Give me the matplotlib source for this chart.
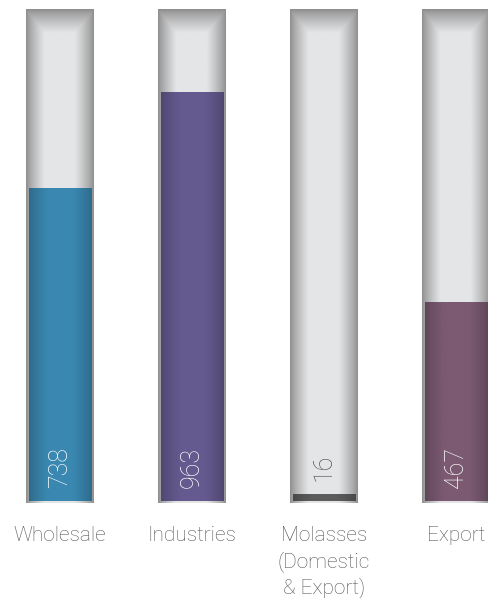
import matplotlib
matplotlib.use("Agg")
import matplotlib.pyplot as plt
import numpy as np
from matplotlib.colors import to_rgb

categories = ["Wholesale", "Industries", "Molasses\n(Domestic\n& Export)", "Export"]
values = [738, 963, 16, 467]
fill_colors = ["#3a88b1", "#655a8f", "#5c5c5c", "#7b5a72"]
label_colors = ["white", "white", "#555555", "white"]

track_max = 1160

plt.rcParams["font.family"] = ["Roboto", "DejaVu Sans"]

fig = plt.figure(figsize=(4.88, 5.98), dpi=100)
ax = fig.add_axes([0, 0, 1, 1])
ax.set_xlim(-0.4545, 3.2424)
ax.set_ylim(-228.8, 1181.6)
ax.axis("off")

outer_w = 0.515
inner_w = 0.477


def profile(n, plateau_lo, plateau_hi):
    t = np.linspace(0, 1, n)
    p = np.ones(n)
    lo = t < plateau_lo
    hi = t > plateau_hi
    p[lo] = (t[lo] / plateau_lo) ** 0.8
    p[hi] = ((1 - t[hi]) / (1 - plateau_hi)) ** 0.8
    return p


# track gradient: dark grey edges, light centre, darker at top
nx, ny = 120, 400
px = profile(nx, 0.27, 0.72)
py = np.ones(ny)
top_n = int(ny * 0.05)
py[:top_n] = np.linspace(0, 1, top_n) ** 0.8
shade = np.minimum(px[None, :], py[:, None])
dark = np.array(to_rgb("#8e8e8e"))
light = np.array(to_rgb("#e4e5e7"))
track_img = dark[None, None, :] + (light - dark)[None, None, :] * shade[:, :, None]

fx = profile(nx, 0.3, 0.7)

for i, (v, c) in enumerate(zip(values, fill_colors)):
    ax.imshow(track_img, extent=(i - outer_w / 2, i + outer_w / 2, -4.7, track_max),
              aspect="auto", interpolation="bilinear", zorder=1)
    base = np.array(to_rgb(c))
    edge = base * 0.78
    fill_img = edge[None, None, :] + (base - edge)[None, None, :] * np.tile(fx, (2, 1))[:, :, None]
    ax.imshow(fill_img, extent=(i - inner_w / 2, i + inner_w / 2, 0, v),
              aspect="auto", interpolation="bilinear", zorder=2)
    ax.text(i, 80, str(v), rotation=90, ha="center", va="center",
            color=label_colors[i], fontsize=18, fontweight="light", zorder=3)
    ax.text(i, -60, categories[i], ha="center", va="top", color="#555555",
            fontsize=15, fontweight="light", linespacing=1.32, zorder=3)

fig.savefig("out.png", dpi=100)
